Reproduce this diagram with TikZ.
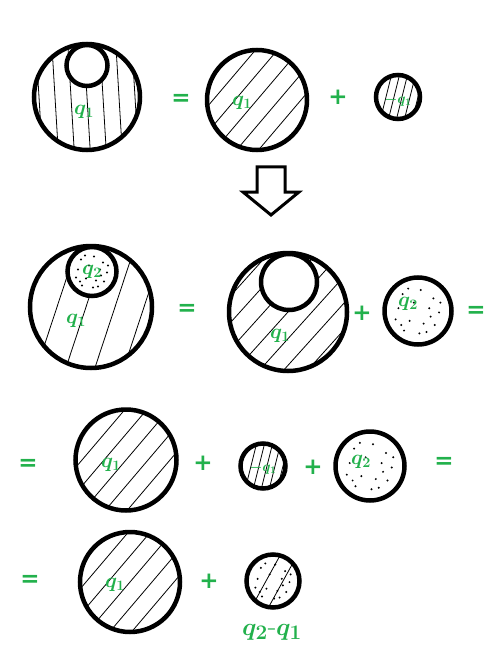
\documentclass[tikz,border=0pt]{standalone}
\usepackage{fontspec}
\newfontfamily\opfont{DejaVu Sans}
\usetikzlibrary{calc}
\definecolor{pgreen}{RGB}{34,177,76}
\newcommand\mydotfill[1]{%
  \foreach \a/\b in {-0.55/-0.6,0.1/-0.75,0.55/-0.45,-0.7/-0.1,0.75/0.05,-0.3/0.35,0.2/0.45,0.6/0.5,-0.5/0.7,0.05/0.8,0.4/-0.1,-0.15/-0.3,0.8/-0.3,-0.8/0.3,0.3/0.75,-0.35/-0.8,0.45/0.2,-0.6/0.5}
    \fill[black] ($(path picture bounding box.center)+(\a*#1,\b*#1)$) circle (1.1);}
\newcommand\myhatch[6]{%
  \foreach \i in {#4,...,#5}
    \draw[hatchline] ($(path picture bounding box.center)+(\i*#3+#6,0)$)
       ++(-#1*100,-#2*100) -- ++(#1*200,#2*200);}
\begin{document}
\begin{tikzpicture}[x=1pt,y=-1pt,
  ball/.style={circle,draw,line width=4.5pt,inner sep=0pt,minimum size=#1},
  hatchline/.style={line width=0.8pt,black},
  hatch/.style n args={6}{path picture={\myhatch{#1}{#2}{#3}{#4}{#5}{#6}}},
  dots/.style={path picture={\mydotfill{#1}}},
  lab/.style={text=pgreen,inner sep=0pt,font=\boldmath\fontsize{22}{22}\selectfont},
  smalllab/.style={text=pgreen,inner sep=0pt,font=\boldmath\fontsize{14}{14}\selectfont},
  op/.style={text=pgreen,inner sep=0pt,font=\opfont\bfseries\fontsize{23}{23}\selectfont},
]
\useasboundingbox (0,0) rectangle (487,655);
\fill[white] (0,0) rectangle (487,655);

% ---- row 1
\node[ball=106, hatch={0.06}{1}{16}{-4}{4}{0}] (A1) at (87,97) {};
\node[ball=41, fill=white] (A1i) at (87,65.5) {};
\node[lab] (A1l) at (84,112) {$q_1$};
\node[op] (eq1) at (181,100) {=};
\node[ball=100, hatch={-0.85}{1}{22}{-5}{5}{0}] (B1) at (257,100) {};
\node[lab] (B1l) at (242,103) {$q_1$};
\node[op] (pl1) at (338,97) {+};
\node[ball=44, hatch={-0.25}{1}{8}{-2}{2}{4}] (C1) at (398,97) {};
\node[smalllab] (C1l) at (398,100) {$-q_1$};

% ---- arrow
\draw[line width=3pt, fill=white, line join=miter]
  (257,167) -- (285,167) -- (285,192) -- (299,192) -- (271,215)
  -- (243,192) -- (257,192) -- cycle;

% ---- row 2
\node[ball=122, hatch={-0.33}{1}{29}{-2}{2}{-5}] (A2) at (91,307) {};
\node[ball=49, fill=white, path picture={\mydotfill{20}}] (A2i) at (92,271.5) {};
\node[lab] (A2il) at (92,272) {$q_2$};
\node[lab] (A2l) at (76,321) {$q_1$};
\node[op] (eq2) at (187,310) {=};
\node[ball=118, hatch={-0.9}{1}{24}{-6}{6}{0}] (B2) at (288,312) {};
\node[ball=56, fill=white] (B2i) at (289,282) {};
\node[lab] (B2l) at (280,336) {$q_1$};
\node[op] (pl2) at (362,313) {+};
\node[ball=67, dots=28] (C2) at (418,311) {};
\node[lab] (C2l) at (408,304) {$q_2$};
\node[op] (eq3) at (476,312) {=};

% ---- row 3
\node[op] (eq4) at (28,465) {=};
\node[ball=101, hatch={-0.85}{1}{22}{-5}{5}{0}] (A3) at (126,460) {};
\node[lab] (A3l) at (111,465) {$q_1$};
\node[op] (pl3) at (203,463) {+};
\node[ball=45, hatch={-0.25}{1}{8}{-2}{2}{4}] (B3) at (263,466) {};
\node[smalllab] (B3l) at (263,468) {$-q_1$};
\node[op] (pl4) at (313,467) {+};
\node[ball=69, dots=29] (C3) at (370,466) {};
\node[lab] (C3l) at (361,462) {$q_2$};
\node[op] (eq5) at (444,463) {=};

% ---- row 4
\node[op] (eq6) at (30,581) {=};
\node[ball=100, hatch={-0.85}{1}{22}{-5}{5}{0}] (A4) at (130,582) {};
\node[lab] (A4l) at (115,585) {$q_1$};
\node[op] (pl5) at (209,581) {+};
\node[ball=53, path picture={\mydotfill{22}\myhatch{-0.55}{1}{17}{-1}{0}{10}}] (B4) at (273,581) {};
\node[lab, font=\boldmath\fontsize{28}{28}\selectfont] (B4l) at (272,632) {$q_2$-$q_1$};
\end{tikzpicture}
\end{document}
